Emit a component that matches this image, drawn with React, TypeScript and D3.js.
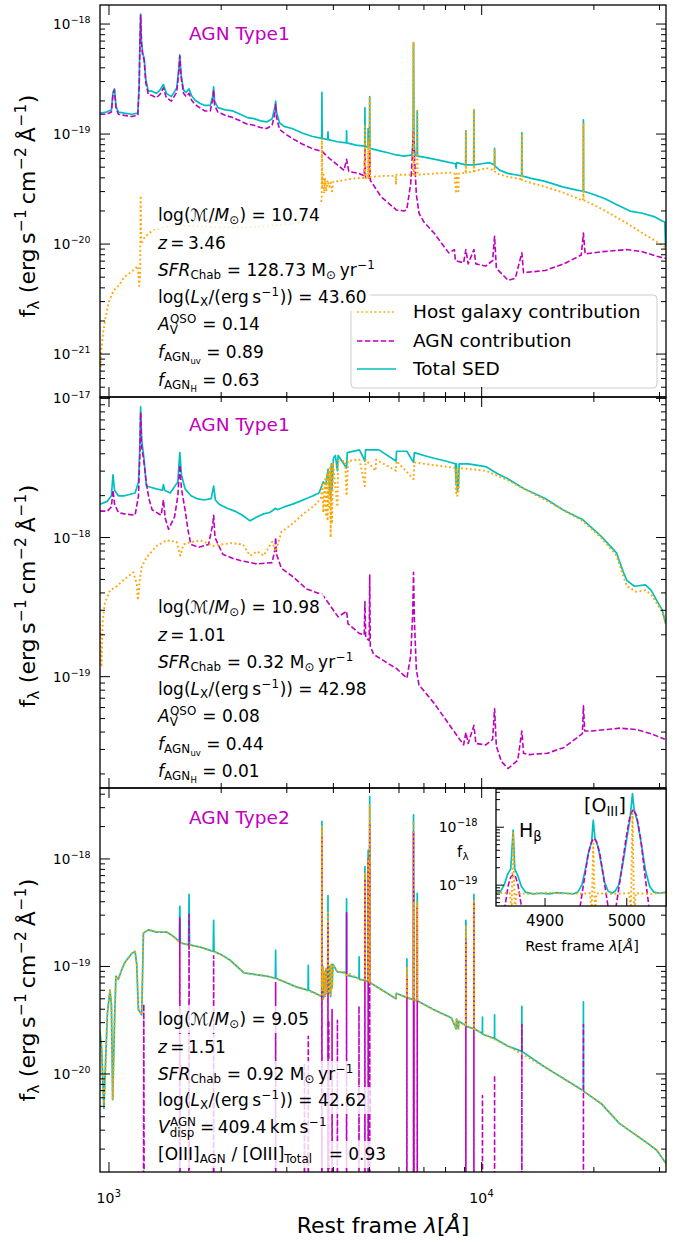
import React, { useEffect, useRef } from 'react';
import * as d3 from 'd3';

type Pt = [number, number]; // [rest-frame wavelength (Å), log10 flux]

// ---------------- TOP PANEL (AGN Type1, z=3.46) ----------------
const topTotal: Pt[] = [
  [945,-18.81],[985,-18.80],[1015,-18.78],[1025,-18.62],[1034,-18.59],[1045,-18.75],[1060,-18.80],[1100,-18.81],[1150,-18.82],[1195,-18.81],
  [1205,-18.55],[1210,-18.20],[1216,-17.91],[1222,-18.15],[1232,-18.27],[1243,-18.31],[1255,-18.50],[1275,-18.61],[1305,-18.61],[1340,-18.63],
  [1370,-18.60],[1400,-18.55],[1425,-18.63],[1470,-18.66],[1520,-18.58],[1540,-18.40],[1549,-18.28],[1560,-18.45],[1585,-18.60],[1610,-18.62],
  [1640,-18.59],[1665,-18.65],[1700,-18.69],[1750,-18.72],[1810,-18.74],[1870,-18.74],[1900,-18.65],[1909,-18.57],[1920,-18.70],[1960,-18.76],
  [2050,-18.78],[2150,-18.79],[2250,-18.82],[2350,-18.85],[2450,-18.86],[2550,-18.88],[2650,-18.89],[2740,-18.86],[2790,-18.75],[2800,-18.70],
  [2815,-18.80],[2870,-18.90],[2950,-18.93],[3100,-18.95],[3300,-18.99],[3500,-19.02],[3722,-19.04],[3727,-18.62],[3733,-19.04],[3860,-19.05],
  [3869,-18.98],[3878,-19.05],[4100,-19.07],[4335,-19.08],[4340,-18.97],[4347,-19.08],[4600,-19.10],[4855,-19.11],[4861,-18.76],[4868,-19.11],
  [4953,-19.12],[4959,-18.95],[4965,-19.12],[5000,-19.12],[5007,-18.66],[5015,-19.13],[5300,-19.15],[5600,-19.17],[5900,-19.19],[6200,-19.20],
  [6500,-19.19],[6545,-19.05],[6563,-18.17],[6585,-19.05],[6620,-19.19],[6710,-19.20],[6716,-18.79],[6725,-19.20],[7000,-19.21],[7500,-19.23],
  [8000,-19.25],[8500,-19.27],[8542,-19.31],[8560,-19.26],[9060,-19.28],[9069,-18.97],[9078,-19.28],[9300,-19.28],[9520,-19.28],[9531,-18.78],
  [9542,-19.28],[10000,-19.27],[10500,-19.26],[10820,-19.28],[10830,-19.13],[10845,-19.29],[11200,-19.33],[11800,-19.36],[12300,-19.37],[12805,-19.38],
  [12818,-18.99],[12830,-19.38],[13500,-19.40],[14800,-19.43],[16500,-19.48],[18000,-19.51],[18730,-19.52],[18751,-18.87],[18770,-19.52],[20000,-19.55],
  [21500,-19.59],[23000,-19.64],[25000,-19.70],[27000,-19.72],[29000,-19.75],[30500,-19.79],[31000,-19.80],[31150,-20.05],
];
const topAgn: Pt[] = [
  [945,-18.82],[985,-18.82],[1015,-18.80],[1025,-18.64],[1034,-18.60],[1045,-18.77],[1060,-18.82],[1100,-18.83],[1150,-18.84],[1195,-18.83],
  [1205,-18.57],[1210,-18.22],[1216,-17.92],[1222,-18.17],[1232,-18.29],[1243,-18.33],[1255,-18.53],[1275,-18.64],[1305,-18.65],[1340,-18.67],
  [1370,-18.64],[1400,-18.58],[1425,-18.67],[1470,-18.70],[1520,-18.62],[1540,-18.42],[1549,-18.29],[1560,-18.47],[1585,-18.63],[1610,-18.66],
  [1640,-18.63],[1665,-18.69],[1700,-18.73],[1750,-18.76],[1810,-18.79],[1870,-18.79],[1900,-18.68],[1909,-18.60],[1920,-18.74],[1960,-18.80],
  [2050,-18.83],[2150,-18.85],[2250,-18.88],[2350,-18.91],[2450,-18.92],[2550,-18.94],[2650,-18.95],[2740,-18.92],[2790,-18.80],[2800,-18.73],
  [2815,-18.85],[2870,-18.96],[2950,-18.99],[3100,-19.04],[3300,-19.09],[3500,-19.13],[3737,-19.16],[3900,-19.22],[4100,-19.28],[4273,-19.33],
  [4340,-19.23],[4400,-19.34],[4700,-19.36],[4840,-19.38],[4861,-19.14],[4880,-19.40],[4990,-19.40],[5007,-19.15],[5025,-19.42],[5370,-19.57],
  [5900,-19.69],[6200,-19.70],[6300,-19.68],[6450,-19.45],[6530,-19.15],[6563,-18.97],[6600,-19.20],[6680,-19.55],[6790,-19.72],[7000,-19.80],
  [7450,-19.90],[8160,-20.08],[8450,-20.05],[8500,-20.15],[8945,-20.17],[9069,-20.05],[9200,-20.18],[9531,-20.05],[9650,-20.18],[10250,-20.20],
  [10700,-20.15],[10830,-19.93],[10950,-20.22],[11780,-20.33],[12310,-20.31],[12818,-20.08],[12950,-20.26],[14810,-20.24],[16600,-20.18],[18500,-20.10],
  [18751,-19.90],[18950,-20.09],[20900,-20.07],[24550,-20.05],[27000,-20.07],[29460,-20.11],[31200,-20.13],
];
const topHost: Pt[] = [
  [945,-21.24],[955,-20.95],[965,-20.80],[980,-20.66],[1000,-20.52],[1030,-20.42],[1060,-20.38],[1100,-20.30],[1150,-20.25],[1195,-20.20],
  [1205,-20.38],[1212,-20.30],[1216,-19.56],[1222,-20.00],[1240,-19.95],[1280,-19.90],[1350,-19.86],[1500,-19.83],[1800,-19.84],[2200,-19.85],
  [2600,-19.84],[3000,-19.82],[3300,-19.80],[3550,-19.76],[3650,-19.72],[3700,-19.62],[3722,-19.60],[3727,-19.04],[3733,-19.50],[3760,-19.35],
  [3780,-19.54],[3800,-19.40],[3830,-19.52],[3860,-19.42],[3900,-19.48],[3934,-19.44],[3968,-19.52],[4000,-19.43],[4100,-19.43],[4400,-19.41],
  [4700,-19.40],[4855,-19.40],[4861,-18.93],[4868,-19.40],[4953,-19.40],[4959,-19.05],[4965,-19.40],[5000,-19.39],[5007,-18.66],[5015,-19.39],
  [5500,-19.38],[5880,-19.38],[5890,-19.46],[5900,-19.37],[6545,-19.37],[6563,-18.17],[6585,-19.37],[6710,-19.37],[6716,-18.79],[6725,-19.37],
  [7400,-19.36],[8200,-19.35],[8450,-19.36],[8542,-19.54],[8560,-19.36],[8662,-19.52],[8680,-19.36],[9060,-19.35],[9069,-18.98],[9078,-19.35],
  [9520,-19.34],[9531,-18.78],[9542,-19.34],[10000,-19.32],[10300,-19.31],[10820,-19.33],[10830,-19.15],[10845,-19.34],[11000,-19.36],[11800,-19.39],
  [12805,-19.41],[12818,-19.00],[12830,-19.42],[14800,-19.48],[16500,-19.53],[18500,-19.60],[18730,-19.60],[18751,-18.90],[18770,-19.60],[21000,-19.68],
  [24500,-19.81],[27000,-19.90],[29500,-19.98],[31200,-20.03],
];

// ---------------- MIDDLE PANEL (AGN Type1, z=1.01) ----------------
const midTotal: Pt[] = [
  [945,-17.76],[990,-17.74],[1015,-17.70],[1025,-17.55],[1035,-17.66],[1060,-17.70],[1100,-17.70],[1175,-17.68],[1200,-17.60],[1210,-17.35],
  [1216,-17.06],[1224,-17.30],[1240,-17.42],[1260,-17.63],[1300,-17.64],[1340,-17.65],[1390,-17.66],[1400,-17.62],[1410,-17.66],[1460,-17.68],
  [1530,-17.60],[1549,-17.39],[1565,-17.55],[1600,-17.65],[1660,-17.70],[1720,-17.72],[1800,-17.73],[1880,-17.72],[1909,-17.63],[1930,-17.73],
  [1975,-17.76],[2075,-17.79],[2175,-17.81],[2280,-17.84],[2390,-17.88],[2500,-17.85],[2600,-17.83],[2700,-17.82],[2800,-17.79],[2830,-17.80],
  [2950,-17.78],[3110,-17.76],[3250,-17.74],[3390,-17.72],[3530,-17.70],[3660,-17.68],[3760,-17.60],[3820,-17.62],[3870,-17.51],[3900,-17.60],
  [3934,-17.72],[3950,-17.47],[3968,-17.65],[4000,-17.43],[4050,-17.41],[4100,-17.52],[4120,-17.41],[4340,-17.50],[4360,-17.39],[4700,-17.37],
  [4861,-17.45],[4880,-17.37],[5300,-17.37],[5890,-17.45],[5910,-17.38],[6300,-17.38],[6563,-17.46],[6600,-17.39],[7000,-17.41],[7450,-17.43],
  [8000,-17.45],[8500,-17.47],[8542,-17.62],[8560,-17.47],[8600,-17.66],[8662,-17.64],[8700,-17.47],[9200,-17.47],[10250,-17.49],[11000,-17.54],
  [11780,-17.58],[13000,-17.65],[14810,-17.72],[16500,-17.80],[18630,-17.87],[20900,-17.99],[23000,-18.11],[24000,-18.25],[24550,-18.31],[25700,-18.35],
  [27500,-18.34],[28500,-18.38],[29460,-18.45],[30500,-18.52],[31200,-18.62],
];
const midAgn: Pt[] = [
  [945,-17.81],[990,-17.81],[1015,-17.78],[1025,-17.66],[1035,-17.76],[1060,-17.82],[1100,-17.83],[1175,-17.84],[1200,-17.70],[1210,-17.40],
  [1216,-17.10],[1224,-17.35],[1240,-17.45],[1260,-17.61],[1280,-17.72],[1305,-17.80],[1380,-17.84],[1400,-17.73],[1415,-17.86],[1445,-17.94],
  [1500,-17.85],[1530,-17.70],[1549,-17.48],[1565,-17.65],[1600,-17.80],[1630,-17.95],[1659,-18.05],[1740,-18.07],[1850,-18.05],[1900,-17.90],
  [1909,-17.84],[1925,-18.00],[2020,-18.12],[2150,-18.15],[2290,-18.17],[2500,-18.19],[2740,-18.18],[2790,-18.08],[2800,-18.00],[2815,-18.12],
  [2900,-18.22],[3110,-18.28],[3390,-18.37],[3737,-18.41],[3900,-18.48],[4120,-18.57],[4340,-18.53],[4380,-18.62],[4700,-18.69],[4840,-18.70],
  [4861,-18.46],[4885,-18.72],[4990,-18.74],[5007,-18.27],[5025,-18.78],[5130,-18.84],[5645,-18.91],[5900,-18.94],[6300,-19.01],[6450,-18.85],
  [6530,-18.55],[6563,-18.25],[6600,-18.60],[6680,-18.95],[6790,-19.06],[7450,-19.19],[8160,-19.34],[8945,-19.49],[9069,-19.40],[9200,-19.48],
  [9531,-19.35],[9650,-19.48],[10250,-19.49],[10700,-19.45],[10830,-19.23],[10950,-19.50],[11300,-19.61],[11780,-19.66],[12500,-19.60],[12818,-19.39],
  [12950,-19.55],[13400,-19.56],[15000,-19.55],[16600,-19.51],[18630,-19.41],[18751,-19.21],[18900,-19.39],[19800,-19.39],[23500,-19.37],[26000,-19.38],
  [28500,-19.41],[31000,-19.45],
];
const midHost: Pt[] = [
  [945,-18.62],[955,-18.93],[962,-18.60],[975,-18.47],[1006,-18.38],[1049,-18.35],[1100,-18.30],[1162,-18.25],[1187,-18.33],[1196,-18.45],
  [1210,-18.30],[1224,-18.21],[1263,-18.14],[1343,-18.06],[1428,-18.02],[1519,-18.03],[1552,-18.13],[1585,-18.05],[1618,-18.04],[1758,-18.02],
  [1904,-18.06],[2120,-18.04],[2290,-18.05],[2390,-18.13],[2500,-18.10],[2600,-18.13],[2740,-18.03],[2800,-18.10],[2900,-17.96],[3110,-17.90],
  [3320,-17.83],[3560,-17.77],[3700,-17.72],[3737,-17.62],[3760,-17.82],[3800,-17.58],[3820,-17.85],[3840,-17.55],[3860,-17.88],[3880,-17.52],
  [3900,-17.78],[3920,-17.50],[3934,-18.00],[3950,-17.48],[3968,-17.90],[3990,-17.46],[4100,-17.78],[4120,-17.45],[4300,-17.45],[4340,-17.70],
  [4380,-17.45],[4700,-17.44],[4861,-17.63],[4880,-17.44],[5190,-17.52],[5210,-17.44],[5890,-17.52],[5910,-17.45],[6563,-17.58],[6600,-17.46],
  [7450,-17.48],[8500,-17.50],[8542,-17.68],[8560,-17.50],[8600,-17.70],[8662,-17.68],[8700,-17.50],[10250,-17.52],[11780,-17.59],[14810,-17.73],
  [18630,-17.88],[20900,-18.00],[23000,-18.13],[24000,-18.28],[24550,-18.35],[26000,-18.39],[27500,-18.38],[28500,-18.41],[29460,-18.47],[30500,-18.54],
  [31200,-18.62],
];

// ---------------- BOTTOM PANEL (AGN Type2, z=1.51) ----------------
const botTotal: Pt[] = [
  [945,-19.60],[955,-19.75],[969,-20.32],[990,-19.44],[1006,-19.22],[1015,-19.35],[1023,-20.24],[1035,-19.50],[1044,-19.09],[1059,-19.12],
  [1082,-19.03],[1104,-18.96],[1151,-18.88],[1175,-18.86],[1187,-18.98],[1199,-19.40],[1224,-19.45],[1237,-18.69],[1276,-18.66],[1343,-18.68],
  [1429,-18.68],[1489,-18.72],[1544,-18.77],[1549,-18.44],[1554,-18.78],[1635,-18.80],[1640,-18.33],[1645,-18.80],[1757,-18.82],[1904,-18.86],
  [1909,-18.57],[1914,-18.86],[2000,-18.89],[2110,-18.94],[2304,-19.06],[2650,-19.09],[2795,-19.11],[2800,-18.85],[2805,-19.11],[3180,-19.19],
  [3421,-19.22],[3426,-18.99],[3431,-19.22],[3576,-19.25],[3722,-19.28],[3727,-17.65],[3732,-19.20],[3750,-19.00],[3760,-19.30],[3780,-19.05],
  [3800,-19.28],[3820,-19.02],[3840,-19.25],[3864,-19.05],[3869,-18.34],[3874,-19.02],[3890,-19.25],[3905,-19.00],[3920,-19.10],[3934,-19.28],
  [3950,-18.98],[3968,-19.20],[3990,-18.98],[4100,-19.05],[4335,-19.06],[4340,-18.37],[4345,-19.08],[4686,-19.11],[4691,-18.91],[4696,-19.12],
  [4856,-19.13],[4861,-18.07],[4866,-19.13],[4954,-19.14],[4959,-17.92],[4964,-19.14],[5002,-19.15],[5007,-17.42],[5012,-19.15],[5890,-19.30],
  [5900,-19.25],[6295,-19.29],[6300,-18.93],[6305,-19.29],[6558,-19.31],[6563,-17.59],[6568,-19.31],[6578,-19.31],[6583,-18.30],[6588,-19.31],
  [6711,-19.32],[6716,-18.32],[6721,-19.32],[7420,-19.40],[8300,-19.48],[8542,-19.58],[8560,-19.49],[8662,-19.58],[8680,-19.51],[9064,-19.55],
  [9069,-18.57],[9074,-19.55],[9150,-19.56],[9526,-19.58],[9531,-18.33],[9536,-19.58],[10000,-19.62],[10044,-19.63],[10049,-19.47],[10054,-19.63],
  [10825,-19.67],[10830,-19.45],[10835,-19.67],[11740,-19.74],[12813,-19.79],[12818,-19.37],[12823,-19.79],[14700,-19.93],[18600,-20.15],[18746,-20.15],
  [18751,-19.33],[18756,-20.16],[21000,-20.28],[23400,-20.46],[25500,-20.55],[27500,-20.63],[29500,-20.71],[31200,-20.83],
];
const botAgn: Pt[] = [
  [945,-21.5],[1237,-21.5],[1240,-19.35],[1243,-21.5],[1546,-21.5],[1549,-18.55],[1552,-21.5],[1637,-21.5],[1640,-18.52],[1643,-21.5],
  [1906,-21.5],[1909,-18.90],[1912,-21.5],[2797,-21.5],[2800,-19.15],[2803,-21.5],[3343,-21.5],[3346,-19.90],[3349,-21.5],[3423,-21.5],
  [3426,-19.65],[3429,-21.5],[3724,-21.5],[3727,-17.80],[3730,-21.5],[3866,-21.5],[3869,-18.60],[3872,-21.5],[3886,-21.5],[3889,-19.50],
  [3892,-21.5],[3965,-21.5],[3968,-19.40],[3971,-21.5],[4098,-21.5],[4101,-19.50],[4104,-21.5],[4337,-21.5],[4340,-18.50],[4343,-21.5],
  [4683,-21.5],[4686,-19.37],[4689,-21.5],[4858,-21.5],[4861,-18.20],[4864,-21.5],[4956,-21.5],[4959,-18.00],[4962,-21.5],[5004,-21.5],
  [5007,-17.68],[5010,-21.5],[6297,-21.5],[6300,-19.10],[6303,-21.5],[6560,-21.5],[6563,-17.75],[6566,-21.5],[6580,-21.5],[6583,-18.60],
  [6586,-21.5],[6713,-21.5],[6716,-18.45],[6719,-21.5],[9066,-21.5],[9069,-18.75],[9072,-21.5],[9528,-21.5],[9531,-18.41],[9534,-21.5],
  [10046,-21.5],[10049,-20.20],[10052,-21.5],[10827,-21.5],[10830,-20.01],[10833,-21.5],[12815,-21.5],[12818,-19.54],[12821,-21.5],[18748,-21.5],
  [18751,-19.54],[18754,-21.5],[31200,-21.5],
];
const botHost: Pt[] = [
  [945,-19.60],[955,-19.75],[969,-20.32],[990,-19.44],[1006,-19.22],[1015,-19.35],[1023,-20.24],[1035,-19.50],[1044,-19.09],[1059,-19.12],
  [1082,-19.03],[1104,-18.96],[1151,-18.88],[1175,-18.86],[1187,-18.98],[1199,-19.40],[1224,-19.45],[1237,-18.69],[1276,-18.66],[1343,-18.68],
  [1429,-18.68],[1489,-18.72],[1552,-18.78],[1650,-18.80],[1757,-18.82],[1904,-18.86],[2000,-18.89],[2110,-18.94],[2304,-19.06],[2650,-19.09],
  [2900,-19.13],[3180,-19.19],[3576,-19.25],[3722,-19.28],[3727,-17.70],[3732,-19.20],[3750,-19.00],[3760,-19.30],[3780,-19.05],[3800,-19.28],
  [3820,-19.02],[3840,-19.25],[3864,-19.05],[3869,-18.50],[3874,-19.02],[3890,-19.25],[3905,-19.00],[3920,-19.10],[3934,-19.28],[3950,-18.98],
  [3968,-19.20],[3990,-18.98],[4100,-19.05],[4300,-19.05],[4340,-19.10],[4380,-19.06],[4700,-19.12],[4856,-19.13],[4861,-18.12],[4866,-19.13],
  [4954,-19.14],[4959,-18.00],[4964,-19.14],[5002,-19.15],[5007,-17.50],[5012,-19.15],[5890,-19.30],[5900,-19.25],[6295,-19.29],[6300,-19.00],
  [6305,-19.29],[6558,-19.31],[6563,-17.65],[6568,-19.31],[6578,-19.31],[6583,-18.40],[6588,-19.31],[6711,-19.32],[6716,-18.40],[6721,-19.32],
  [7420,-19.40],[8300,-19.48],[8542,-19.58],[8560,-19.49],[8662,-19.58],[8680,-19.51],[9064,-19.55],[9069,-18.62],[9074,-19.55],[9150,-19.56],
  [9526,-19.58],[9531,-18.38],[9536,-19.58],[10000,-19.62],[11740,-19.74],[14700,-19.93],[18600,-20.15],[21000,-20.28],[23400,-20.46],[25500,-20.55],
  [27500,-20.63],[29500,-20.71],[31200,-20.83],
];

// ---------------- INSET (Hβ / [OIII]) ----------------
const insetTotal: Pt[] = [
  [4840,-19.13],[4845,-19.12],[4850,-19.00],[4854,-18.82],[4858,-18.72],[4861,-18.05],[4863,-18.72],[4867,-18.85],[4871,-19.02],[4876,-19.12],
  [4885,-19.15],[4895,-19.14],[4905,-19.15],[4915,-19.13],[4925,-19.14],[4935,-19.15],[4940,-19.12],[4945,-19.00],[4949,-18.75],[4953,-18.45],
  [4957,-18.25],[4959,-17.88],[4961,-18.18],[4965,-18.35],[4969,-18.65],[4973,-18.95],[4977,-19.10],[4982,-19.14],[4986,-19.10],[4990,-19.00],
  [4995,-18.65],[5000,-18.20],[5004,-17.85],[5007,-17.42],[5009,-17.70],[5013,-17.90],[5018,-18.30],[5023,-18.75],[5028,-19.02],[5033,-19.12],
  [5040,-19.14],[5048,-19.12],
];
const insetAgn: Pt[] = [
  [4840,-19.90],[4845,-19.90],[4851,-19.36],[4855,-19.00],[4858,-18.86],[4861,-18.82],[4864,-18.86],[4867,-19.00],[4871,-19.36],[4877,-19.90],
  [4937,-19.90],[4943,-19.36],[4948,-18.90],[4953,-18.45],[4957,-18.25],[4960,-18.19],[4963,-18.25],[4967,-18.45],[4972,-18.90],[4977,-19.36],
  [4982,-19.80],[4987,-19.36],[4993,-18.80],[4999,-18.20],[5004,-17.80],[5008,-17.69],[5012,-17.80],[5017,-18.20],[5022,-18.80],[5027,-19.36],
  [5032,-19.90],[5048,-19.90],
];
const insetHost: Pt[] = [
  [4840,-19.14],[4850,-19.13],[4857,-19.14],[4859,-19.50],[4861,-18.10],[4863,-19.50],[4865,-19.14],[4880,-19.15],[4900,-19.13],[4920,-19.14],
  [4940,-19.15],[4955,-19.14],[4957,-19.50],[4959,-18.28],[4961,-19.50],[4963,-19.14],[4985,-19.15],[5003,-19.14],[5005,-19.50],[5007,-17.76],
  [5009,-19.50],[5011,-19.14],[5030,-19.15],[5048,-19.13],
];

// ---------------- Labels ----------------
const legendLabels = ['Host galaxy contribution', 'AGN contribution', 'Total SED'];
const panelTitles = ['AGN Type1', 'AGN Type1', 'AGN Type2'];
const yMajorTop = [-21, -20, -19, -18];
const yMajorMid = [-19, -18, -17];
const yMajorBot = [-20, -19, -18];
const xMajor = [1000, 10000];
const insetXTicks = [4900, 5000];
const insetYMajor = [-19, -18];

type Seg = { t?: string; k?: 'n' | 'sub' | 'sup' | 'subsub' | 'stack'; i?: boolean; sup?: string; sub?: string };

const massSeg = (v: string): Seg[] => [{ t: 'log(' }, { t: 'ℳ', i: true }, { t: '/' }, { t: 'M', i: true }, { t: '⊙', k: 'sub' }, { t: ') = ' + v }];
const sfrSeg = (v: string): Seg[] => [{ t: 'SFR', i: true }, { t: 'Chab', k: 'sub' }, { t: ' = ' + v + ' M' }, { t: '⊙', k: 'sub' }, { t: '\u2009yr' }, { t: '−1', k: 'sup' }];
const lxSeg = (v: string): Seg[] => [{ t: 'log(' }, { t: 'L', i: true }, { t: 'X', k: 'sub' }, { t: '/(erg\u2009s' }, { t: '−1', k: 'sup' }, { t: ')) = ' + v }];

const annTop: Seg[][] = [
  massSeg('10.74'),
  [{ t: 'z', i: true }, { t: '\u2009=\u20093.46' }],
  sfrSeg('128.73'),
  lxSeg('43.60'),
  [{ t: 'A', i: true }, { k: 'stack', sup: 'QSO', sub: 'V' }, { t: ' = 0.14' }],
  [{ t: 'f', i: true }, { t: 'AGN', k: 'sub' }, { t: 'uv', k: 'subsub' }, { t: ' = 0.89' }],
  [{ t: 'f', i: true }, { t: 'AGN', k: 'sub' }, { t: 'H', k: 'subsub' }, { t: ' = 0.63' }],
];
const annMid: Seg[][] = [
  massSeg('10.98'),
  [{ t: 'z', i: true }, { t: '\u2009=\u20091.01' }],
  sfrSeg('0.32'),
  lxSeg('42.98'),
  [{ t: 'A', i: true }, { k: 'stack', sup: 'QSO', sub: 'V' }, { t: ' = 0.08' }],
  [{ t: 'f', i: true }, { t: 'AGN', k: 'sub' }, { t: 'uv', k: 'subsub' }, { t: ' = 0.44' }],
  [{ t: 'f', i: true }, { t: 'AGN', k: 'sub' }, { t: 'H', k: 'subsub' }, { t: ' = 0.01' }],
];
const annBot: Seg[][] = [
  massSeg('9.05'),
  [{ t: 'z', i: true }, { t: '\u2009=\u20091.51' }],
  sfrSeg('0.92'),
  lxSeg('42.62'),
  [{ t: 'V', i: true }, { k: 'stack', sup: 'AGN', sub: 'disp' }, { t: '\u2009=\u2009409.4\u2009km\u2009s' }, { t: '−1', k: 'sup' }],
  [{ t: '[OIII]' }, { t: 'AGN', k: 'sub' }, { t: ' / [OIII]' }, { t: 'Total', k: 'sub' }, { t: '   = 0.93' }],
];

const FONT = "'DejaVu Sans', sans-serif";
const C_TOT = '#00bfbf';
const C_AGN = '#bf00bf';
const C_HOST = '#ffa500';
const W = 686, H = 1243;
const X0 = 100, X1 = 666;

interface Panel {
  top: number; bottom: number; logMin: number; logMax: number;
  total: Pt[]; agn: Pt[]; host: Pt[];
  title: string; titleBase: number; ann: Seg[][]; annBase: number[];
  ylabelY: number; majors: number[];
}

const panels: Panel[] = [
  { top: 5, bottom: 397, logMin: -21.39, logMax: -17.827, total: topTotal, agn: topAgn, host: topHost,
    title: panelTitles[0], titleBase: 40, ann: annTop, annBase: [221, 249, 276, 303, 330, 358, 386], ylabelY: 206, majors: yMajorTop },
  { top: 397, bottom: 788, logMin: -19.80, logMax: -16.99, total: midTotal, agn: midAgn, host: midHost,
    title: panelTitles[1], titleBase: 431, ann: annMid, annBase: [613, 641, 668, 695, 722, 750, 777], ylabelY: 596, majors: yMajorMid },
  { top: 788, bottom: 1172, logMin: -20.912, logMax: -17.34, total: botTotal, agn: botAgn, host: botHost,
    title: panelTitles[2], titleBase: 824, ann: annBot, annBase: [1025, 1053, 1080, 1106, 1133, 1160], ylabelY: 990, majors: yMajorBot },
];

function rich(parent: any, x: number, y: number, segs: Seg[], fs: number,
  opts: { anchor?: 'start' | 'middle' | 'end'; rotate?: boolean; color?: string } = {}) {
  const g = parent.append('g').attr('fill', opts.color || '#000').attr('font-family', FONT);
  let cx = 0;
  const add = (t: string, size: number, dy: number, italic: boolean, xx: number) => {
    const el = g.append('text').attr('x', xx).attr('y', dy).attr('font-size', size)
      .attr('font-style', italic ? 'italic' : 'normal').style('white-space', 'pre').text(t);
    return (el.node() as SVGTextElement).getComputedTextLength();
  };
  for (const s of segs) {
    const k = s.k || 'n';
    if (k === 'stack') {
      const w1 = add(s.sup || '', fs * 0.7, -0.44 * fs, false, cx + 0.02 * fs);
      const w2 = add(s.sub || '', fs * 0.7, 0.26 * fs, false, cx);
      cx += Math.max(w1, w2) + 0.06 * fs;
    } else if (k === 'sup') {
      cx += add(s.t || '', fs * 0.7, -0.42 * fs, !!s.i, cx + 0.03 * fs) + 0.06 * fs;
    } else if (k === 'sub') {
      cx += add(s.t || '', fs * 0.7, 0.2 * fs, !!s.i, cx) + 0.02 * fs;
    } else if (k === 'subsub') {
      cx += add(s.t || '', fs * 0.5, 0.36 * fs, !!s.i, cx);
    } else {
      cx += add(s.t || '', fs, 0, !!s.i, cx);
    }
  }
  const w = cx;
  const off = opts.anchor === 'middle' ? -w / 2 : opts.anchor === 'end' ? -w : 0;
  if (opts.rotate) g.attr('transform', `translate(${x},${y}) rotate(-90) translate(${off},0)`);
  else g.attr('transform', `translate(${x + off},${y})`);
  return w;
}

const ylabelSegs: Seg[] = [{ t: 'f' }, { t: 'λ', k: 'sub' }, { t: ' (erg\u2009s' }, { t: '−1', k: 'sup' }, { t: '\u2009cm' }, { t: '−2', k: 'sup' }, { t: '\u2009Å' }, { t: '−1', k: 'sup' }, { t: ')' }];

const DASH = '5.5,2.4';
const DOT = '1.8,2.6';

function draw(svgEl: SVGSVGElement) {
  const svg = d3.select(svgEl);
  svg.selectAll('*').remove();
  svg.append('rect').attr('width', W).attr('height', H).attr('fill', '#fff');
  const defs = svg.append('defs');
  const x = d3.scaleLog().domain([946, 31230]).range([X0, X1]);
  const style = (sel: any, color: string, dash: string | null, w = 1.6) => sel.attr('fill', 'none').attr('stroke', color)
    .attr('stroke-width', w).attr('stroke-linejoin', 'round').attr('stroke-dasharray', dash);

  panels.forEach((p, pi) => {
    const y = d3.scaleLog().domain([Math.pow(10, p.logMin), Math.pow(10, p.logMax)]).range([p.bottom, p.top]);
    const id = 'clipP' + pi;
    defs.append('clipPath').attr('id', id).append('rect')
      .attr('x', X0).attr('y', p.top).attr('width', X1 - X0).attr('height', p.bottom - p.top);
    const g = svg.append('g');
    const cg = g.append('g').attr('clip-path', `url(#${id})`);
    const line = d3.line<Pt>().x(d => x(d[0])).y(d => y(Math.pow(10, d[1])));
    style(cg.append('path').attr('d', line(p.total)), C_TOT, null, 1.7);
    style(cg.append('path').attr('d', line(p.agn)), C_AGN, DASH, 1.6);
    style(cg.append('path').attr('d', line(p.host)), C_HOST, DOT, 1.9);

    if (pi === 0) {
      // legend (drawn beneath the annotation texts, as in the reference)
      const lg = g.append('g');
      lg.append('rect').attr('x', 351).attr('y', 295).attr('width', 306).attr('height', 93).attr('rx', 4)
        .attr('fill', '#fff').attr('fill-opacity', 0.8).attr('stroke', '#cccccc').attr('stroke-width', 1);
      const cols = [C_HOST, C_AGN, C_TOT];
      const dashes = [DOT, DASH, null];
      const ys = [312, 341, 369];
      legendLabels.forEach((lab, i) => {
        lg.append('line').attr('x1', 357).attr('x2', 396).attr('y1', ys[i]).attr('y2', ys[i])
          .attr('stroke', cols[i]).attr('stroke-width', 1.7).attr('stroke-dasharray', dashes[i]);
        lg.append('text').attr('x', 413).attr('y', ys[i] + 6).attr('font-family', FONT).attr('font-size', 18.5).text(lab);
      });
    }

    // title
    g.append('text').attr('x', 189).attr('y', p.titleBase).attr('font-family', FONT).attr('font-size', 18.5)
      .attr('fill', C_AGN).text(p.title);

    // annotations with translucent white boxes
    const boxG = g.append('g');
    const txtG = g.append('g');
    p.ann.forEach((segs, li) => {
      const bl = p.annBase[li];
      const w = rich(txtG, 158, bl, segs, 17);
      boxG.append('rect').attr('x', 154).attr('y', bl - 19).attr('width', w + 8).attr('height', 27)
        .attr('fill', '#fff').attr('fill-opacity', 0.8);
    });

    // y ticks
    const tg = g.append('g').attr('stroke', '#000').attr('stroke-width', 1);
    for (let n = Math.floor(p.logMin); n <= Math.ceil(p.logMax); n++) {
      for (let k = 1; k <= 9; k++) {
        const v = n + Math.log10(k);
        if (v < p.logMin || v > p.logMax + 0.02) continue;
        const py = y(Math.pow(10, v));
        const len = k === 1 ? 10 : 5;
        tg.append('line').attr('x1', X0).attr('x2', X0 + len).attr('y1', py).attr('y2', py);
        tg.append('line').attr('x1', X1).attr('x2', X1 - len).attr('y1', py).attr('y2', py);
      }
    }
    p.majors.forEach(m => {
      rich(g, 91, y(Math.pow(10, m)) + 5, [{ t: '10' }, { t: '−' + Math.abs(m), k: 'sup' }], 13.5, { anchor: 'end' });
    });
    // x ticks top & bottom
    for (const base of [1000, 10000]) {
      for (let k = 1; k <= 9; k++) {
        const lam = base * k;
        if (lam < 946 || lam > 31230) continue;
        const px = x(lam);
        const len = xMajor.includes(lam) ? 10 : 5;
        tg.append('line').attr('x1', px).attr('x2', px).attr('y1', p.top).attr('y2', p.top + len);
        tg.append('line').attr('x1', px).attr('x2', px).attr('y1', p.bottom).attr('y2', p.bottom - len);
      }
    }
    // y label
    rich(g, 35, p.ylabelY, ylabelSegs, 22, { anchor: 'middle', rotate: true });
    // spine
    g.append('rect').attr('x', X0).attr('y', p.top).attr('width', X1 - X0).attr('height', p.bottom - p.top)
      .attr('fill', 'none').attr('stroke', '#000').attr('stroke-width', 1.3);

    if (pi === 2) {
      // x tick labels & x label
      xMajor.forEach(v => {
        rich(g, x(v), 1203, [{ t: '10' }, { t: String(Math.round(Math.log10(v))), k: 'sup' }], 14, { anchor: 'middle' });
      });
      rich(g, 383, 1233, [{ t: 'Rest frame ' }, { t: 'λ', i: true }, { t: '[' }, { t: 'Å', i: true }, { t: ']' }], 22, { anchor: 'middle' });

      // inset
      const ix = d3.scaleLinear().domain([4840, 5048]).range([496, 666]);
      const iy = d3.scaleLog().domain([Math.pow(10, -19.36), Math.pow(10, -17.34)]).range([906, 789]);
      const ig = svg.append('g');
      ig.append('rect').attr('x', 496).attr('y', 789).attr('width', 170).attr('height', 117).attr('fill', '#fff');
      defs.append('clipPath').attr('id', 'clipInset').append('rect').attr('x', 496).attr('y', 789).attr('width', 170).attr('height', 117);
      const icg = ig.append('g').attr('clip-path', 'url(#clipInset)');
      const iline = d3.line<Pt>().x(d => ix(d[0])).y(d => iy(Math.pow(10, d[1])));
      style(icg.append('path').attr('d', iline(insetTotal)), C_TOT, null, 1.7);
      style(icg.append('path').attr('d', iline(insetAgn)), C_AGN, DASH, 1.6);
      style(icg.append('path').attr('d', iline(insetHost)), C_HOST, DOT, 1.9);
      const itg = ig.append('g').attr('stroke', '#000').attr('stroke-width', 1);
      for (let n = -20; n <= -17; n++) {
        for (let k = 1; k <= 9; k++) {
          const v = n + Math.log10(k);
          if (v < -19.36 || v > -17.34) continue;
          const py = iy(Math.pow(10, v));
          itg.append('line').attr('x1', 496).attr('x2', 496 + (k === 1 ? 8 : 4)).attr('y1', py).attr('y2', py);
        }
      }
      insetXTicks.forEach(v => {
        itg.append('line').attr('x1', ix(v)).attr('x2', ix(v)).attr('y1', 906).attr('y2', 898);
        ig.append('text').attr('x', ix(v)).attr('y', 926).attr('text-anchor', 'middle').attr('font-family', FONT)
          .attr('font-size', 15).text(String(v));
      });
      insetYMajor.forEach(m => {
        rich(ig, 478, iy(Math.pow(10, m)) + 5, [{ t: '10' }, { t: '−' + Math.abs(m), k: 'sup' }], 14, { anchor: 'end' });
      });
      rich(ig, 463, 857, [{ t: 'f' }, { t: 'λ', k: 'sub' }], 15, { anchor: 'middle' });
      rich(ig, 582, 951, [{ t: 'Rest frame ' }, { t: 'λ', i: true }, { t: '[' }, { t: 'Å', i: true }, { t: ']' }], 14.5, { anchor: 'middle' });
      rich(ig, 519, 837, [{ t: 'H' }, { t: 'β', k: 'sub' }], 19);
      rich(ig, 584, 812, [{ t: '[O' }, { t: 'III', k: 'sub' }, { t: ']' }], 19);
      ig.append('rect').attr('x', 496).attr('y', 789).attr('width', 170).attr('height', 117)
        .attr('fill', 'none').attr('stroke', '#000').attr('stroke-width', 1.3);
    }
  });
}

export default function App() {
  const ref = useRef<SVGSVGElement>(null);
  useEffect(() => {
    if (ref.current) draw(ref.current);
  }, []);
  return (
    <div style={{ position: 'absolute', left: 0, top: 0 }}>
      <svg ref={ref} width={W} height={H} style={{ display: 'block', background: '#fff' }} />
    </div>
  );
}
